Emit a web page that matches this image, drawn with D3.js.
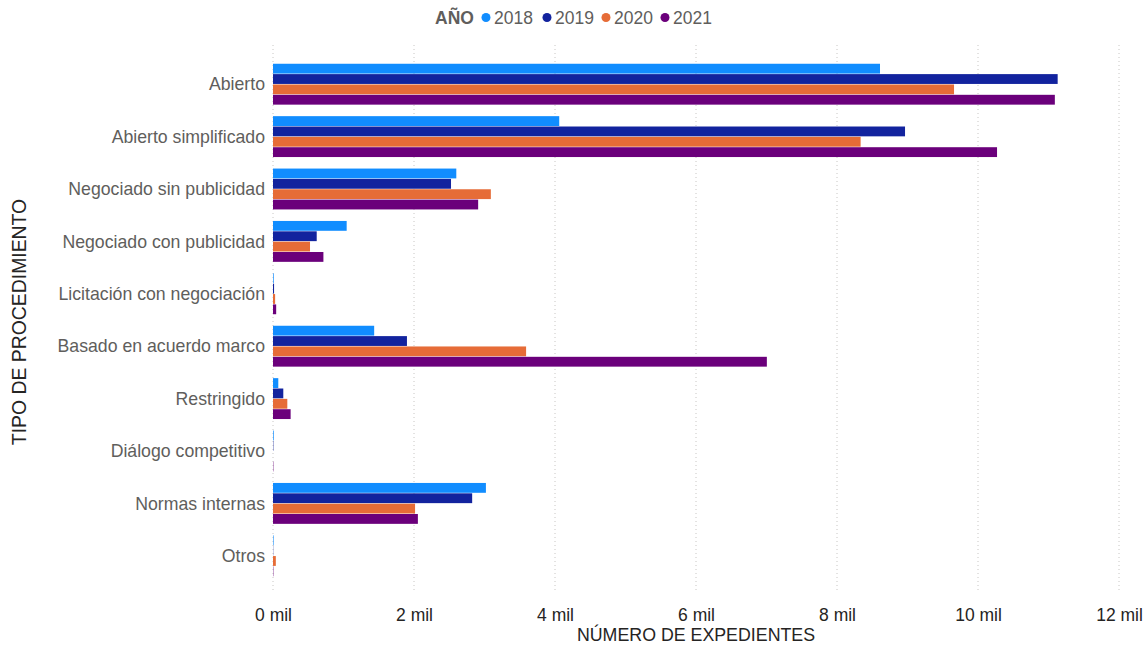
<!DOCTYPE html>
<html><head><meta charset="utf-8">
<script src="https://cdn.jsdelivr.net/npm/d3@7"></script>
<style>body{margin:0;background:#fff}svg{display:block}</style>
</head><body><svg id="c" width="1148" height="647"></svg>
<script>
const categories = ["Abierto","Abierto simplificado","Negociado sin publicidad","Negociado con publicidad","Licitación con negociación","Basado en acuerdo marco","Restringido","Diálogo competitivo","Normas internas","Otros"];
const years = ["2018","2019","2020","2021"];
const colors = ["#118DFF","#12239E","#E66C37","#6B007B"];
const v2018 = [8610,4060,2600,1045,10,1435,75,10,3020,8];
const v2019 = [11130,8965,2525,620,15,1900,146,5,2825,3];
const v2020 = [9660,8335,3090,525,30,3590,203,0,2015,40];
const v2021 = [11090,10270,2910,715,45,7005,250,5,2055,5];
const xTicks = [0,2000,4000,6000,8000,10000,12000];
const series = [v2018,v2019,v2020,v2021];

const svg = d3.select("#c");
const font = "'Liberation Sans', Arial, sans-serif";
const x = d3.scaleLinear().domain([0,12000]).range([273,1119]);
const y = d3.scaleBand().domain(categories).range([58,582]).paddingInner(0.2).paddingOuter(0.1);
const yy = d3.scaleBand().domain(years).range([0,y.bandwidth()]).padding(0.05);

// gridlines
svg.append("g").selectAll("line").data(xTicks).join("line")
  .attr("x1",d=>x(d)).attr("x2",d=>x(d)).attr("y1",45).attr("y2",592)
  .attr("stroke","#c8c6c4").attr("stroke-dasharray","1,3").attr("stroke-width",1);

// bars
const g = svg.append("g");
years.forEach((yr,i)=>{
  g.selectAll(null).data(categories).join("rect")
    .attr("x",x(0))
    .attr("y",c=>y(c)+yy(yr))
    .attr("width",(c,j)=>Math.max(x(series[i][j])-x(0),0))
    .attr("height",yy.bandwidth())
    .attr("fill",colors[i]);
});

// x axis
const xa = svg.append("g").attr("transform","translate(0,618)")
  .call(d3.axisBottom(x).tickValues(xTicks).tickSize(0).tickFormat(d=>(d/1000)+" mil"));
xa.select(".domain").remove();
xa.selectAll("text").attr("font-family",font).attr("font-size",17.5).attr("fill","#252423").attr("dy","0");

// y axis
const ya = svg.append("g").attr("transform","translate(265,0)")
  .call(d3.axisLeft(y).tickSize(0).tickPadding(0));
ya.select(".domain").remove();
ya.selectAll("text").attr("font-family",font).attr("font-size",17.7).attr("fill","#605E5C").attr("dy","0.35em");

// titles
svg.append("text").attr("x",696).attr("y",641).attr("text-anchor","middle")
  .attr("font-family",font).attr("font-size",17.8).attr("fill","#252423").text("NÚMERO DE EXPEDIENTES");
svg.append("text").attr("transform","translate(26,322) rotate(-90)").attr("text-anchor","middle")
  .attr("font-family",font).attr("font-size",19.4).attr("fill","#252423").text("TIPO DE PROCEDIMIENTO");

// legend
const lg = svg.append("g").attr("font-family",font);
lg.append("text").attr("x",435).attr("y",24).attr("font-size",17.5).attr("font-weight","bold").attr("fill","#605E5C").text("AÑO");
const lx = [486,547,606,665];
years.forEach((yr,i)=>{
  lg.append("circle").attr("cx",lx[i]).attr("cy",17.5).attr("r",4.5).attr("fill",colors[i]);
  lg.append("text").attr("x",lx[i]+8).attr("y",24).attr("font-size",17.5).attr("fill","#605E5C").text(yr);
});
</script></body></html>
